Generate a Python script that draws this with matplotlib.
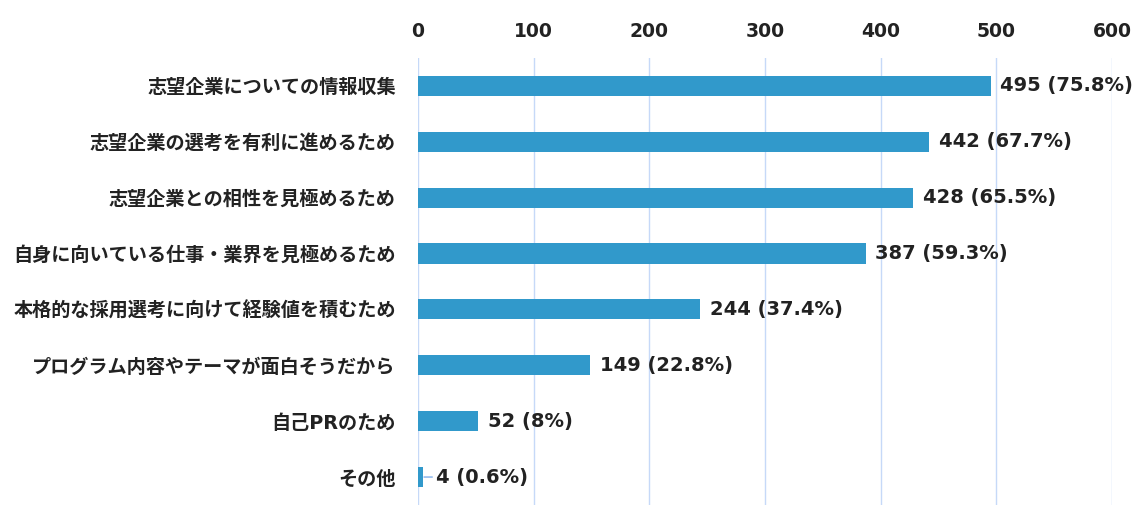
import matplotlib.pyplot as plt

# Reasons for joining internships
categories = [
    '志望企業についての情報収集',
    '志望企業の選考を有利に進めるため',
    '志望企業との相性を見極めるため',
    '自身に向いている仕事・業界を見極めるため',
    '本格的な採用選考に向けて経験値を積むため',
    'プログラム内容やテーマが面白そうだから',
    '自己PRのため',
    'その他',
]
counts = [495, 442, 428, 387, 244, 149, 52, 4]
percents = ['75.8%', '67.7%', '65.5%', '59.3%', '37.4%', '22.8%', '8%', '0.6%']

fonts = ['DejaVu Sans', 'Noto Sans CJK JP']
plt.rcParams['font.family'] = fonts
plt.rcParams['font.weight'] = 'bold'

fig = plt.figure(figsize=(11.37, 5.22), dpi=100)
ax = fig.add_axes([0.3676, 0.0326, 0.6104, 0.8564])

y = list(range(len(categories)))
ax.barh(y, counts, height=0.36, color='#3199CB', zorder=2)

ax.set_xlim(0, 600)
ax.set_ylim(len(categories) - 0.5, -0.5)
ax.set_xticks(range(0, 700, 100))
ax.xaxis.tick_top()
ax.tick_params(axis='x', length=0, pad=12, labelsize=13.5, labelcolor='#222222')
ax.tick_params(axis='y', length=0, pad=16, labelsize=13.8, labelcolor='#222222')
ax.set_yticks(y)
ax.set_yticklabels(categories)
ax.grid(axis='x', color='#C6D9F8', linewidth=1, zorder=0)
for s in ax.spines.values():
    s.set_visible(False)

for i, (c, p) in enumerate(zip(counts, percents)):
    label = f'{c} ({p})'
    if c < 20:
        ax.annotate(label, xy=(c, i), xytext=(10, 0), textcoords='offset points',
                    va='center', ha='left', fontsize=14, color='#222222',
                    arrowprops=dict(arrowstyle='-', color='#7FAEEA', lw=1,
                                    shrinkA=1, shrinkB=1))
    else:
        ax.annotate(label, xy=(c, i), xytext=(7, 0), textcoords='offset points',
                    va='center', ha='left', fontsize=14, color='#222222')

plt.savefig('out.png', dpi=100)
